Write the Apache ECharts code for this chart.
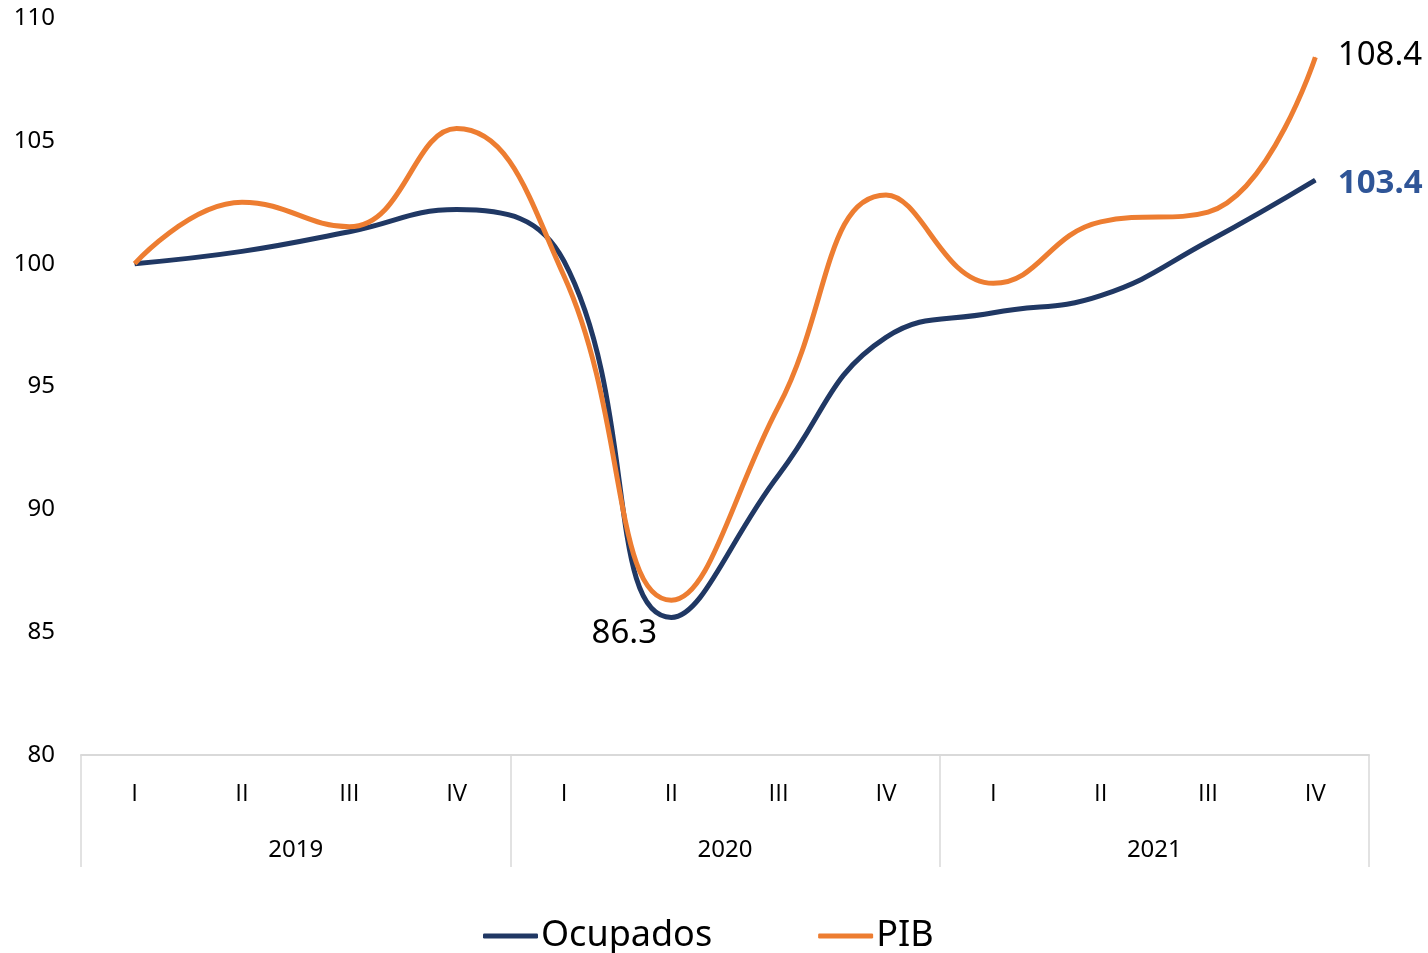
<!DOCTYPE html>
<html>
<head>
<meta charset="utf-8">
<script src="https://cdn.jsdelivr.net/npm/echarts@6/dist/echarts.min.js"></script>
<style>
  html, body { margin: 0; padding: 0; background: #fff; }
  #chart { width: 1428px; height: 953px; }
</style>
</head>
<body>
<div id="chart"></div>
<script>
// datos (índice, 2019-I = 100)
const quarters = ['I', 'II', 'III', 'IV', 'I', 'II', 'III', 'IV', 'I', 'II', 'III', 'IV'];
const years = ['2019', '2020', '2021'];
const ocupados = [100, 100.5, 101.3, 102.2, 100.1, 85.6, 91.4, 97.0, 98.0, 98.7, 100.9, 103.4];
const pib = [100, 102.5, 101.5, 105.5, 99.5, 86.3, 94.2, 102.8, 99.2, 101.7, 102.1, 108.4];
const yTicks = { min: 80, max: 110, interval: 5 };

const FONT = 'Noto Sans';
const BLUE = '#203864';
const ORANGE = '#ED7D31';

const chart = echarts.init(document.getElementById('chart'));

// etiquetas: solo en el último punto y en el mínimo del PIB
const lastIdx = quarters.length - 1;
const minIdx = pib.indexOf(Math.min(...pib));

const ocupadosData = ocupados.map((v, i) => ({
  value: v,
  label: i === lastIdx ? {
    show: true, position: 'right', distance: 22, offset: [0, 3],
    color: '#2F5597', fontWeight: 'bold', fontSize: 33, fontFamily: FONT
  } : { show: false }
}));

const pibData = pib.map((v, i) => {
  let label = { show: false };
  if (i === lastIdx) {
    label = { show: true, position: 'right', distance: 22, offset: [0, -2], color: '#000', fontSize: 33, fontFamily: FONT };
  } else if (i === minIdx) {
    label = { show: true, position: 'bottom', distance: 16, offset: [-47, 0], color: '#000', fontSize: 33, fontFamily: FONT };
  }
  return { value: v, label };
});

const option = {
  animation: false,
  grid: { left: 81, right: 59, top: 18, bottom: 198, containLabel: false },
  legend: {
    left: 478,
    top: 913,
    itemWidth: 55,
    itemHeight: 5,
    itemGap: 106,
    icon: 'roundRect',
    textStyle: { fontFamily: FONT, fontSize: 36, color: '#000', padding: [0, 0, 0, -2] },
    data: ['Ocupados', 'PIB']
  },
  xAxis: [
    {
      type: 'category',
      position: 'bottom',
      data: quarters,
      axisLine: { show: true, lineStyle: { color: '#d9d9d9', width: 2 } },
      axisTick: { show: false },
      axisLabel: { interval: 0, margin: 27, fontFamily: 'Open Sans', fontSize: 24, color: '#000' }
    },
    {
      type: 'category',
      position: 'bottom',
      offset: 0,
      data: years,
      axisLine: { show: false },
      axisTick: { show: true, interval: 0, length: 112, lineStyle: { color: '#d9d9d9', width: 1.5 } },
      axisLabel: { interval: 0, margin: 83, fontFamily: FONT, fontSize: 24, color: '#000' }
    }
  ],
  yAxis: {
    type: 'value',
    min: yTicks.min,
    max: yTicks.max,
    interval: yTicks.interval,
    axisLine: { show: false },
    axisTick: { show: false },
    splitLine: { show: false },
    axisLabel: { margin: 26, fontFamily: FONT, fontSize: 24, color: '#000' }
  },
  series: [
    {
      name: 'Ocupados',
      type: 'line',
      xAxisIndex: 0,
      data: ocupadosData,
      smooth: 0.45,
      symbol: 'circle',
      symbolSize: 1,
      showAllSymbol: true,
      lineStyle: { color: BLUE, width: 5 },
      itemStyle: { color: BLUE },
      z: 2
    },
    {
      name: 'PIB',
      type: 'line',
      xAxisIndex: 0,
      data: pibData,
      smooth: 0.45,
      symbol: 'circle',
      symbolSize: 1,
      showAllSymbol: true,
      lineStyle: { color: ORANGE, width: 5 },
      itemStyle: { color: ORANGE },
      z: 3
    }
  ]
};

chart.setOption(option);
</script>
</body>
</html>
